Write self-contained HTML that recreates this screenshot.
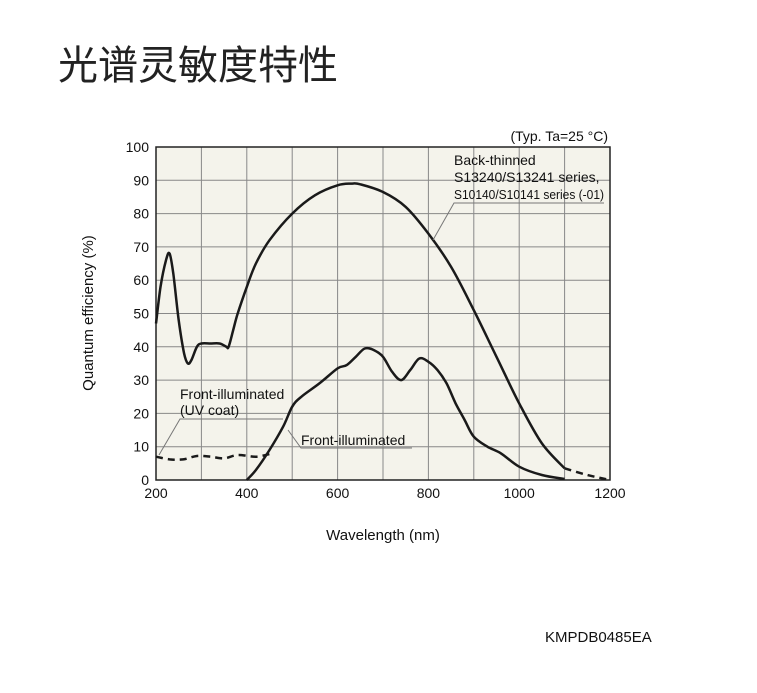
<!DOCTYPE html>
<html><head><meta charset="utf-8"><style>
body{margin:0;background:#fff;width:757px;height:693px;overflow:hidden;position:relative;font-family:"Liberation Sans","Noto Sans CJK SC",sans-serif;}
#title{position:absolute;left:58px;top:36px;font-size:40px;color:#222;font-family:"Noto Sans CJK SC",sans-serif;line-height:52px;white-space:nowrap}
#code{position:absolute;left:545px;top:629px;font-size:15px;color:#111}
</style></head><body>
<div id="title">光谱灵敏度特性</div>
<svg id="chart" width="757" height="693" style="position:absolute;left:0;top:0" xmlns="http://www.w3.org/2000/svg"></svg>
<div id="code">KMPDB0485EA</div>
<script>
const xTicks=[200,400,600,800,1000,1200];
const yTicks=[0,10,20,30,40,50,60,70,80,90,100];
const btWl=[200,210,222,230,238,250,262,270,278,290,300,320,340,355,360,370,380,400,420,450,500,550,600,630,650,700,750,800,850,900,950,1000,1050,1100];
const btQe=[47,58,66,68,62,48,38,35,36,40,41,41,41,40,40,45,50,58,65,72,80,85.5,88.5,89,88.8,86.5,82,74,64,51,37,23,11,3.5];
const btDashWl=[1100,1150,1200];
const btDashQe=[3.5,1.5,0];
const fiWl=[400,420,450,480,500,520,560,600,620,640,660,680,700,720,740,760,780,800,820,840,860,880,900,930,960,1000,1050,1100];
const fiQe=[0,3,9,16,22,25,29,33.5,34.5,37,39.5,39,37,32.5,30,33,36.5,35.5,33,29,23,18,13,10,8,4,1.5,0.3];
const uvWl=[200,230,260,290,320,350,380,420,450];
const uvQe=[7,6.2,6.2,7.2,7,6.5,7.5,7,7.8];

const L=156,R=610,T=147,B=480;
const sx=v=>L+(v-200)/1000*(R-L);
const sy=v=>B-v/100*(B-T);
const svg=document.getElementById('chart');
const NS='http://www.w3.org/2000/svg';
function mk(tag,attrs){const e=document.createElementNS(NS,tag);for(const k in attrs)e.setAttribute(k,attrs[k]);svg.appendChild(e);return e;}
let bg=mk('rect',{x:L,y:T,width:R-L,height:B-T,fill:'#f4f3eb'});


for(let v=300;v<1200;v+=100){let g=mk('line',{x1:sx(v),x2:sx(v),y1:T,y2:B,stroke:'#888','stroke-width':1});

}
for(let v=10;v<100;v+=10){let g=mk('line',{x1:L,x2:R,y1:sy(v),y2:sy(v),stroke:'#888','stroke-width':1});

}
let fr=mk('rect',{x:L,y:T,width:R-L,height:B-T,fill:'none',stroke:'#222','stroke-width':1.5});


xTicks.forEach(v=>{let t=mk('text',{x:sx(v),y:B+18,'text-anchor':'middle','font-size':14,fill:'#111'});t.textContent=v;

});
yTicks.forEach(v=>{let t=mk('text',{x:L-7,y:sy(v)+5,'text-anchor':'end','font-size':14,fill:'#111'});t.textContent=v;

});
function smooth(P){
 let d='M'+P[0][0].toFixed(1)+','+P[0][1].toFixed(1);
 for(let i=0;i<P.length-1;i++){
  const p0=P[i-1]||P[i],p1=P[i],p2=P[i+1],p3=P[i+2]||P[i+1];
  const c1=[p1[0]+(p2[0]-p0[0])/6,p1[1]+(p2[1]-p0[1])/6];
  const c2=[p2[0]-(p3[0]-p1[0])/6,p2[1]-(p3[1]-p1[1])/6];
  d+=' C'+c1.map(n=>n.toFixed(1))+' '+c2.map(n=>n.toFixed(1))+' '+p2[0].toFixed(1)+','+p2[1].toFixed(1);
 }
 return d;
}
function line(wl,qe,name,dash){
 const P=wl.map((w,i)=>[sx(w),sy(qe[i])]);
 const p=mk('path',{d:smooth(P),fill:'none',stroke:'#1a1a1a','stroke-width':2.5,'stroke-linejoin':'round'});
 if(dash)p.setAttribute('stroke-dasharray','7,5');
 
 
}
line(btWl,btQe,'back-thinned-line',false);
line(btDashWl,btDashQe,'back-thinned-extension',true);
line(fiWl,fiQe,'front-illuminated-line',false);
line(uvWl,uvQe,'front-illuminated-uv-line',true);
function txt(x,y,s,name,size,anchor,rot){const t=mk('text',{x:x,y:y,'font-size':size||14,fill:'#111','text-anchor':anchor||'start'});if(rot)t.setAttribute('transform',rot);t.textContent=s;

return t;}
function ln(pts,name){let p=mk('polyline',{points:pts,fill:'none',stroke:'#777','stroke-width':1});

}
txt(608,141,'(Typ. Ta=25 °C)','condition-note',14,'end');
txt(454,165,'Back-thinned','back-thinned-label',14);
txt(454,182,'S13240/S13241 series,','back-thinned-label-2',14);
let t3=txt(454,199,'S10140/S10141 series (-01)','back-thinned-label-3',12.5);
t3.setAttribute('textLength','150');
t3.setAttribute('lengthAdjust','spacingAndGlyphs');
ln('604,203 454,203 433,240','back-thinned-leader');
txt(180,399,'Front-illuminated','uv-label',14);
txt(180,415,'(UV coat)','uv-label-2',14);
ln('283,419 180,419 159,455','uv-leader');
txt(301,445,'Front-illuminated','front-label',14);
ln('412,448 301,448 288,430','front-leader');
txt(383,540,'Wavelength (nm)','x-axis-title',15,'middle');
txt(93,313,'Quantum efficiency (%)','y-axis-title',15,'middle','rotate(-90 93 313)');
</script>
</body></html>
